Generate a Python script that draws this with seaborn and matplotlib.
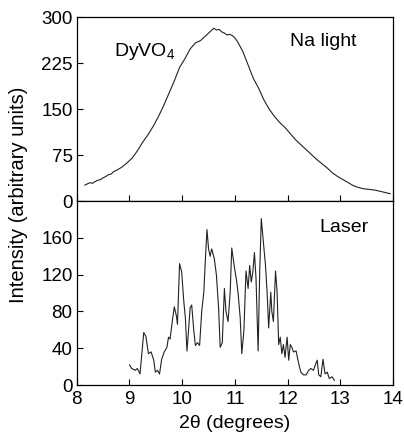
import numpy as np
import pandas as pd
import seaborn as sns
import matplotlib
matplotlib.use("Agg")
import matplotlib.pyplot as plt

# Na light scan (top panel)
na_angle = [8.15, 8.2, 8.25, 8.3, 8.35, 8.4, 8.45, 8.5, 8.55, 8.6,
            8.65, 8.7, 8.75, 8.85, 8.95, 9.05, 9.15, 9.25, 9.35, 9.45,
            9.55, 9.65, 9.75, 9.85, 9.95, 10.05, 10.15, 10.25, 10.35, 10.45,
            10.5, 10.55, 10.6, 10.65, 10.7, 10.75, 10.8, 10.85, 10.9, 10.95,
            11.0, 11.05, 11.15, 11.25, 11.35, 11.45, 11.55, 11.65, 11.75, 11.85,
            11.95, 12.05, 12.15, 12.25, 12.35, 12.45, 12.55, 12.65, 12.75, 12.85,
            12.95, 13.05, 13.15, 13.25, 13.35, 13.45, 13.55, 13.65, 13.75, 13.85,
            13.95]
na_int = [26, 28, 30, 29, 32, 34, 35, 38, 40, 43,
          44, 48, 50, 55, 62, 70, 82, 96, 108, 122,
          138, 156, 176, 196, 218, 232, 248, 258, 262, 270,
          274, 278, 282, 279, 280, 276, 274, 271, 272, 270,
          266, 260, 244, 222, 200, 184, 165, 150, 138, 128,
          120, 110, 100, 92, 84, 76, 68, 61, 54, 46,
          40, 35, 30, 25, 22, 20, 19, 18, 16, 14,
          12]

# laser scan (bottom panel)
laser_angle = [9.0, 9.04, 9.11, 9.15, 9.2, 9.27, 9.31, 9.36, 9.41, 9.46,
               9.49, 9.53, 9.57, 9.61, 9.66, 9.71, 9.74, 9.77, 9.82, 9.85,
               9.89, 9.91, 9.95, 9.99, 10.03, 10.06, 10.09, 10.12, 10.15, 10.18,
               10.22, 10.25, 10.29, 10.33, 10.37, 10.41, 10.44, 10.47, 10.5, 10.53,
               10.56, 10.61, 10.65, 10.69, 10.72, 10.76, 10.8, 10.83, 10.87, 10.91,
               10.94, 10.99, 11.03, 11.06, 11.1, 11.13, 11.17, 11.21, 11.25, 11.28,
               11.31, 11.34, 11.37, 11.4, 11.44, 11.47, 11.5, 11.54, 11.58, 11.61,
               11.64, 11.68, 11.7, 11.73, 11.77, 11.8, 11.83, 11.86, 11.89, 11.92,
               11.95, 11.99, 12.02, 12.05, 12.08, 12.11, 12.16, 12.21, 12.25, 12.3,
               12.35, 12.4, 12.44, 12.49, 12.52, 12.56, 12.59, 12.63, 12.67, 12.71,
               12.75, 12.79, 12.84, 12.89]
laser_int = [22, 18, 16, 18, 12, 57, 53, 34, 36, 27,
             14, 16, 12, 28, 36, 41, 52, 50, 73, 85,
             75, 66, 132, 123, 91, 73, 37, 59, 84, 87,
             59, 43, 46, 43, 80, 101, 137, 169, 148, 140,
             148, 137, 119, 84, 41, 46, 105, 80, 69, 101,
             149, 128, 114, 100, 73, 34, 59, 124, 105, 130,
             112, 123, 144, 116, 37, 123, 181, 155, 130, 101,
             62, 101, 80, 69, 124, 101, 44, 52, 34, 44,
             30, 52, 27, 44, 41, 36, 37, 23, 14, 11,
             11, 16, 18, 16, 21, 27, 11, 9, 28, 12,
             14, 7, 9, 5]

na_df = pd.DataFrame({"angle": na_angle, "intensity": na_int})
laser_df = pd.DataFrame({"angle": laser_angle, "intensity": laser_int})

sns.set_style("ticks")
plt.rcParams["font.family"] = ["Liberation Sans", "DejaVu Sans"]
plt.rcParams["xtick.direction"] = "in"
plt.rcParams["ytick.direction"] = "in"
plt.rcParams["text.color"] = "black"
plt.rcParams["xtick.color"] = "black"
plt.rcParams["ytick.color"] = "black"
plt.rcParams["axes.edgecolor"] = "black"
plt.rcParams["axes.labelcolor"] = "black"

fig, (ax1, ax2) = plt.subplots(2, 1, figsize=(4.04, 4.4), dpi=100, sharex=True)
fig.subplots_adjust(left=0.19, right=0.973, top=0.961, bottom=0.125, hspace=0)

sns.lineplot(data=na_df, x="angle", y="intensity", ax=ax1, color="#222222", lw=0.8)
sns.lineplot(data=laser_df, x="angle", y="intensity", ax=ax2, color="#222222", lw=0.8)

ax1.set_xlim(8, 14)
ax1.set_ylim(0, 300)
ax1.set_yticks([0, 75, 150, 225, 300])
ax2.set_ylim(0, 200)
ax2.set_yticks([0, 40, 80, 120, 160])
ax2.set_xticks([8, 9, 10, 11, 12, 13, 14])

for ax in (ax1, ax2):
    ax.set_ylabel("")
    ax.set_xlabel("")
    ax.tick_params(labelsize=13.5, length=4, width=0.8)
    ax.tick_params(axis="y", pad=3)
    for s in ax.spines.values():
        s.set_linewidth(0.9)
ax1.tick_params(axis="x", labelbottom=False)
ax2.tick_params(axis="x", pad=4)

ax1.text(8.7, 236, r"DyVO$_{\mathregular{4}}$", fontsize=14)
ax1.text(12.04, 261, "Na light", fontsize=14, va="center")
ax2.text(12.6, 171, "Laser", fontsize=14, va="center")

ax2.set_xlabel("2θ (degrees)", fontsize=14, labelpad=5)
fig.text(0.045, 0.557, "Intensity (arbitrary units)", rotation=90,
         fontsize=14.5, ha="center", va="center")

plt.savefig("out.png", dpi=100)
